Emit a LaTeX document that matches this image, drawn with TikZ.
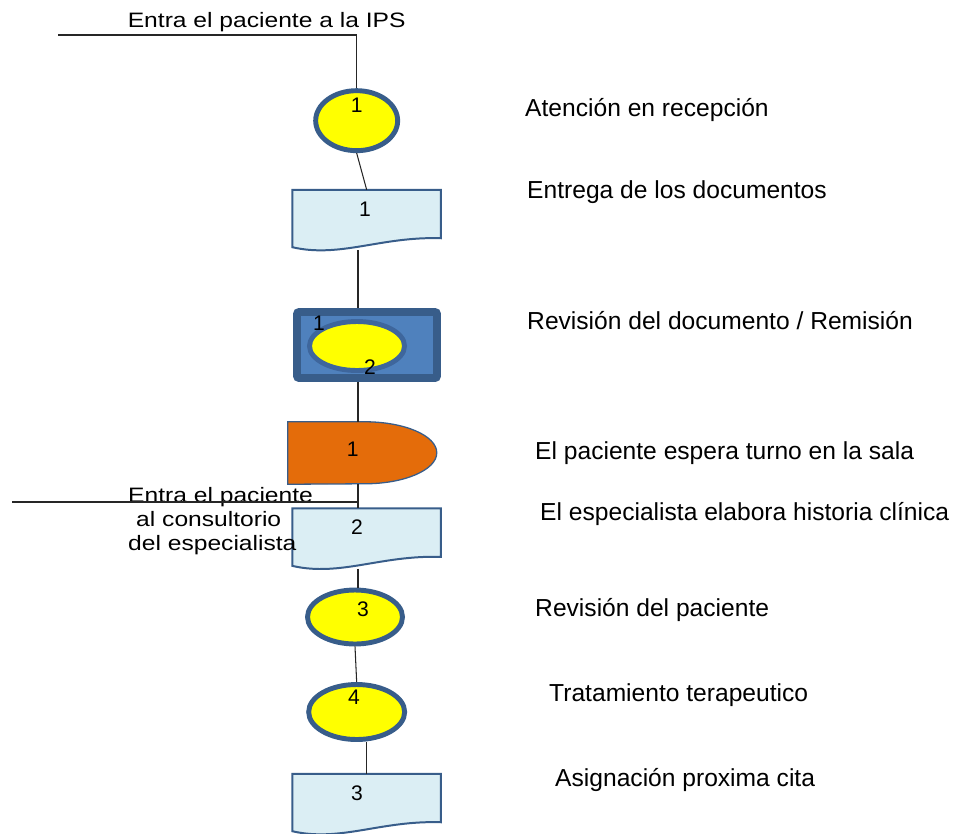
\documentclass[tikz,border=0pt]{standalone}
\usepackage{fontspec}
\setmainfont{Liberation Sans}
\newfontfamily\anchafont[FakeStretch=1.18]{Liberation Sans}
\usepackage{xcolor}
\usetikzlibrary{shapes.geometric, backgrounds}
\definecolor{bordeazul}{HTML}{385D8A}
\definecolor{anilloazul}{HTML}{3E669C}
\definecolor{azulmedio}{HTML}{4F81BD}
\definecolor{celeste}{HTML}{DBEEF4}
\definecolor{naranja}{HTML}{E46C0A}
\definecolor{amarillo}{HTML}{FFFF00}

\begin{document}
\begin{tikzpicture}[
  every node/.style={font=\fontsize{21}{24}\selectfont, inner sep=0pt},
  circulo/.style={
    ellipse, draw=bordeazul, line width=4.2pt, fill=amarillo
  },
  documento/.style={
    rectangle, minimum width=4.44cm, minimum height=1.8cm
  },
  docborde/.style={draw=bordeazul, line width=1.7pt, fill=celeste},
  demora/.style={draw=bordeazul, line width=1.1pt, fill=naranja},
  caja/.style={
    draw=bordeazul, fill=azulmedio, line width=6.8pt, rounded corners=2pt,
    minimum width=4.2cm, minimum height=1.98cm
  },
  anillo/.style={
    ellipse, draw=anilloazul, line width=4.2pt, fill=amarillo,
    minimum width=2.85cm, minimum height=1.47cm
  },
  num/.style={font=\fontsize{18}{20}\selectfont},
  izq/.style={font=\anchafont\fontsize{17.8}{20.4}\selectfont},
  der/.style={anchor=base west},
  linea/.style={draw=black!85, line width=0.9pt}
]
\useasboundingbox (0,0) rectangle (28.59,-24.99);

  % Simbolos del recorrido
\node[circulo, minimum width=2.46cm, minimum height=1.8cm,
  label={[num, yshift=0.46cm]center:1}] (recepcion) at (10.70,-3.62) {};
\node[documento, label={[num, xshift=-0.05cm, yshift=0.33cm]center:1}] (entrega) at (11.00,-6.60) {};
\node[caja] (revision) at (11.01,-10.35) {};
\node[anillo, label={[num, xshift=-1.14cm, yshift=0.69cm]center:1},
  label={[num, xshift=0.39cm, yshift=-0.63cm]center:2}] (remision) at (10.71,-10.38) {};
\node[rectangle, minimum width=4.47cm, minimum height=1.86cm,
  label={[num, xshift=-0.29cm, yshift=0.12cm]center:1}] (espera) at (10.875,-13.59) {};
\node[documento, label={[num, xshift=-0.29cm, yshift=0.35cm]center:2}] (historia) at (11.00,-16.16) {};
\node[circulo, minimum width=2.85cm, minimum height=1.62cm,
  label={[num, xshift=0.24cm, yshift=0.24cm]center:3}] (revpaciente) at (10.65,-18.51) {};
\node[circulo, minimum width=2.88cm, minimum height=1.65cm,
  label={[num, xshift=-0.08cm, yshift=0.45cm]center:4}] (tratamiento) at (10.70,-21.36) {};
\node[documento, label={[num, xshift=-0.29cm, yshift=0.33cm]center:3}] (cita) at (11.00,-24.12) {};

  % Formas dibujadas detras
\begin{scope}[on background layer]
  \foreach \d in {entrega, historia, cita}
    \draw[docborde] (\d.north west) -- (\d.north east) -- ([yshift=0.36cm]\d.south east)
      .. controls +(-1.8,0.06) and +(1.44,-0.33) .. ([yshift=0.09cm]\d.south west) -- cycle;
  \draw[demora] (espera.north west) -- ++(2.31,0)
    arc[start angle=90, end angle=-90, x radius=2.16cm, y radius=0.93cm]
    -- (espera.south west) -- cycle;
\end{scope}

  % Textos de la izquierda
\node[izq, anchor=base] (t_ingreso) at (8.00,-0.83) {Entra el paciente a la IPS};
\node[izq, align=left, anchor=base west] (t_consulta) at (3.84,-16.50)
  {Entra el paciente\\\hspace*{0.24cm}al consultorio\\del especialista};

  % Textos de la derecha
\node[der] (d_recepcion) at (15.75,-3.48) {Atención en recepción};
\node[der] (d_entrega) at (15.81,-5.94) {Entrega de los documentos};
\node[der] (d_revision) at (15.81,-9.88) {Revisión del documento / Remisión};
\node[der] (d_espera) at (16.05,-13.78) {El paciente espera turno en la sala};
\node[der] (d_historia) at (16.20,-15.62) {El especialista elabora historia clínica};
\node[der] (d_revpaciente) at (16.05,-18.48) {Revisión del paciente};
\node[der] (d_tratamiento) at (16.47,-21.03) {Tratamiento terapeutico};
\node[der] (d_cita) at (16.65,-23.60) {Asignación proxima cita};

  % Lineas de union
\coordinate (eje) at (10.74,0);
\coordinate (ingreso) at (1.74,-1.05);
\coordinate (consulta) at (0.36,-15.06);
\draw[linea] (ingreso) -- (ingreso -| recepcion.north) -- (recepcion.north);
\draw[linea] (recepcion.south) -- (entrega.north);
\draw[linea] (entrega.south -| eje) -- (revision.north -| eje);
\draw[linea] (revision.south -| eje) -- (espera.north -| eje);
\draw[linea] (espera.south -| eje) -- (historia.north -| eje);
\draw[linea] (consulta) -- (consulta -| eje);
\draw[linea] (historia.south -| eje) -- (revpaciente.north -| eje);
\draw[linea] (revpaciente.south) -- (tratamiento.north);
\draw[linea] (cita.north) -- (cita.north |- tratamiento.south);

\end{tikzpicture}
\end{document}
